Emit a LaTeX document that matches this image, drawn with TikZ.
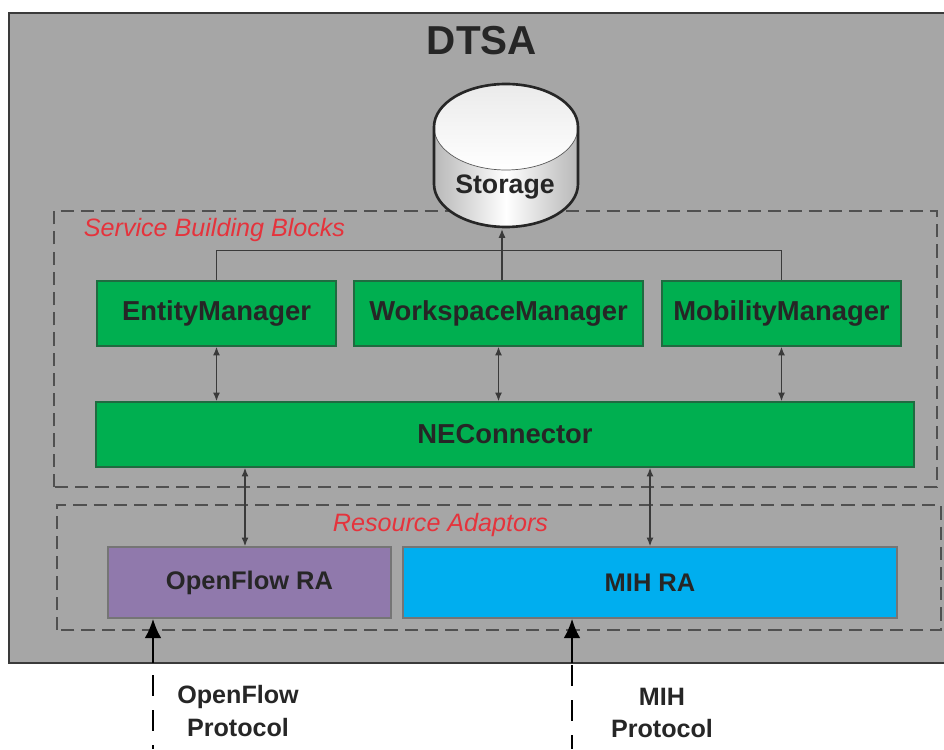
\documentclass[tikz,border=0pt]{standalone}
\usepackage{fontspec}
\setmainfont{Liberation Sans}
\usetikzlibrary{shapes,calc,arrows.meta}
\usepackage{xcolor}

\definecolor{panelgray}{HTML}{A6A6A6}
\definecolor{dashgray}{HTML}{505050}
\definecolor{linegray}{HTML}{3A3A3A}
\definecolor{blockgreen}{HTML}{00AF50}
\definecolor{edgegreen}{HTML}{1F6B40}
\definecolor{ragreen}{HTML}{1F6B40}
\definecolor{rapurple}{HTML}{9079AC}
\definecolor{rablue}{HTML}{00AEEF}
\definecolor{labelred}{HTML}{E5333C}

\tikzset{
  block/.style={draw=edgegreen,thick,fill=blockgreen,minimum height=1.3cm,font=\fontsize{15.6}{18}\selectfont\bfseries,text=black!85},
  adaptor/.style={draw=linegray!70,thick,minimum height=1.42cm,font=\fontsize{14.5}{18}\selectfont\bfseries,text=black!85},
  group/.style={dashgray,line width=1pt,dash pattern=on 7.5pt off 4pt},
  grouplabel/.style={text=labelred,font=\fontsize{14.3}{17}\selectfont\itshape},
  link/.style={{Latex[length=5pt,width=4pt]}-{Latex[length=5pt,width=4pt]},linegray,line width=0.8pt},
  port/.style={-{Latex[length=11pt,width=9.5pt]},black,line width=1.4pt},
  portdash/.style={black,line width=1.2pt,dash pattern=on 12pt off 8pt},
  protolabel/.style={align=center,font=\fontsize{14.3}{18.7}\selectfont\bfseries,text=black!85}
}

\begin{document}
\begin{tikzpicture}

  \useasboundingbox (0,0) rectangle (18.88,14.98);

  % outer panel
  \draw[fill=panelgray,draw=linegray,line width=1pt] (0.18,1.72) rectangle (18.98,14.72);
  \node (dtsa) at (9.64,14.16) [font=\fontsize{23}{27}\selectfont\bfseries,text=black!85] {DTSA};

  % dashed groups
  \draw[group] (1.08,5.24) rectangle (18.74,10.76);
  \draw[group] (1.14,2.38) rectangle (18.82,4.88);
  \node (sbblabel) at (4.29,10.38) [grouplabel] {Service Building Blocks};
  \node (ralabel) at (8.81,4.48) [grouplabel] {Resource Adaptors};

  % storage
  \shade[left color=black!28,right color=black!28,middle color=white]
    (8.68,12.44) -- (8.68,11.30) arc (180:360:1.44cm and 0.86cm) -- (11.56,12.44) -- cycle;
  \shade[top color=black!8,bottom color=white] (10.12,12.44) ellipse (1.44cm and 0.86cm);
  \draw[black!65,thin] (8.68,12.44) arc (180:360:1.44cm and 0.86cm);
  \draw[line width=1.5pt,black!85] (8.68,11.30) arc (180:360:1.44cm and 0.86cm) -- (11.56,12.44)
    arc (0:180:1.44cm and 0.86cm) -- cycle;
  \node (storage) at (10.10,11.24) [font=\fontsize{15.2}{18}\selectfont\bfseries,text=black!85] {Storage};
  \coordinate (storagebottom) at (10.04,10.40);

  % service blocks
  \node (entity) at (4.33,8.71) [block,minimum width=4.78cm] {EntityManager};
  \node (workspace) at (9.97,8.71) [block,minimum width=5.78cm] {WorkspaceManager};
  \node (mobility) at (15.63,8.71) [block,minimum width=4.78cm] {MobilityManager};
  \node (neconnector) at (10.10,6.29) [block,minimum width=16.36cm] {NEConnector};

  % adaptors
  \node (openflow) at (4.99,3.33) [adaptor,fill=rapurple,minimum width=5.66cm] {OpenFlow RA};
  \node (mih) at (13.00,3.33) [adaptor,fill=rablue,minimum width=9.88cm] {MIH RA};

  % bus to storage
  \draw[linegray,line width=0.8pt] (entity.north) -- ++(0,0.6) -| (mobility.north);
  \draw[-{Latex[length=5pt,width=4pt]},linegray,line width=0.8pt] (storagebottom |- workspace.north) -- (storagebottom);

  \draw[link] (entity.south) -- (entity.south |- neconnector.north);
  \draw[link] (workspace.south) -- (workspace.south |- neconnector.north);
  \draw[link] (mobility.south) -- (mobility.south |- neconnector.north);
  \draw[link] ([xshift=-0.09cm]openflow.north |- neconnector.south) -- ([xshift=-0.09cm]openflow.north);
  \draw[link] (mih.north |- neconnector.south) -- (mih.north);

  % protocols
  \coordinate (ofport) at (3.06,1.72);
  \coordinate (ofdash) at (3.06,1.48);
  \coordinate (ofend) at (3.06,0);
  \coordinate (mihport) at (11.44,1.72);
  \coordinate (mihdash) at (11.44,1.68);
  \coordinate (mihend) at (11.44,0);
  \draw[port] (ofport) -- (ofport |- openflow.south);
  \draw[port] (mihport) -- (mihport |- mih.south);
  \draw[portdash] (ofdash) -- (ofend);
  \draw[portdash] (mihdash) -- (mihend);
  \node (ofproto) at (4.76,0.76) [protolabel] {OpenFlow\\Protocol};
  \node (mihproto) at (13.24,0.72) [protolabel] {MIH\\Protocol};

\end{tikzpicture}
\end{document}
